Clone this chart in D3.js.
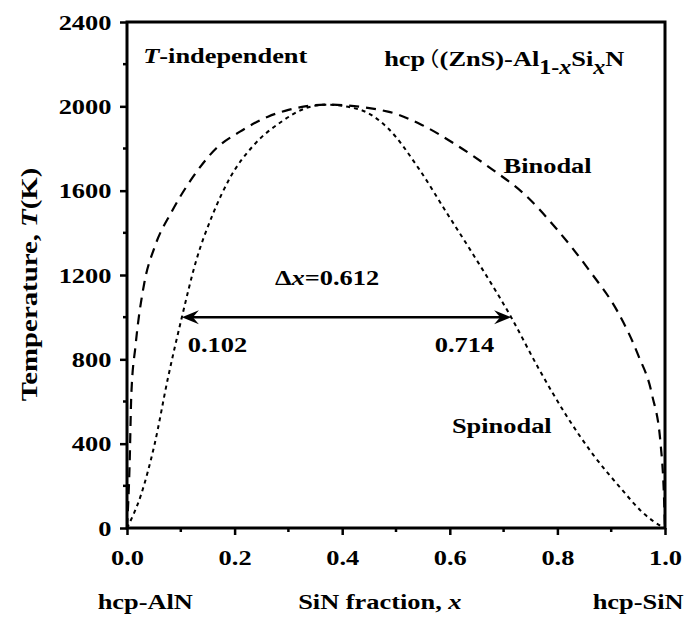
<!DOCTYPE html>
<html>
<head>
<meta charset="utf-8">
<script src="https://cdn.jsdelivr.net/npm/d3@7"></script>
<style>
  body { margin: 0; background: #fff; }
  svg text { font-family: "Liberation Serif", "Times New Roman", serif; font-weight: bold; fill: #000; }
</style>
</head>
<body>
<div id="chart"></div>
<script>
// binodal curve (dashed)
const binodalX = [0, 0.005, 0.008, 0.016, 0.032, 0.051, 0.083, 0.121, 0.166, 0.210, 0.262, 0.300, 0.370, 0.485, 0.548, 0.612, 0.676, 0.740, 0.797, 0.861, 0.912, 0.950, 0.976, 0.992, 0.998, 1.0];
const binodalT = [0, 315, 631, 868, 1160, 1330, 1500, 1659, 1801, 1880, 1951, 1983, 2008, 1975, 1912, 1817, 1706, 1580, 1423, 1216, 1026, 821, 631, 394, 157, 0];

// spinodal curve (dotted)
const spinodalX = [0, 0.026, 0.051, 0.076, 0.102, 0.128, 0.159, 0.191, 0.236, 0.287, 0.332, 0.370, 0.434, 0.485, 0.542, 0.593, 0.644, 0.714, 0.765, 0.816, 0.867, 0.918, 0.957, 0.995, 1.0];
const spinodalT = [0, 157, 394, 710, 1000, 1263, 1485, 1659, 1817, 1927, 1991, 2008, 1983, 1896, 1706, 1500, 1295, 1000, 757, 536, 346, 188, 77, 6, 0];

// miscibility gap arrow at T = 1000 K
const gapX = [0.102, 0.714];
const gapT = 1000;

const xTicks = [0, 0.2, 0.4, 0.6, 0.8, 1.0];
const xMinor = [0.1, 0.3, 0.5, 0.7, 0.9];
const yTicks = [0, 400, 800, 1200, 1600, 2000, 2400];
const yMinor = [200, 600, 1000, 1400, 1800, 2200];

const width = 688;
const height = 622;
const margin = { top: 22, right: 23, bottom: 94, left: 127 };
const sx = 1.2; // the original lettering is horizontally wide

const svg = d3.select("#chart")
    .append("svg")
    .attr("width", width)
    .attr("height", height);

const x = d3.scaleLinear().domain([0, 1]).range([margin.left, width - margin.right]);
const y = d3.scaleLinear().domain([0, 2400]).range([height - margin.bottom, margin.top]);

// wide text helper: parts = [[text, {italic, sub, size, dx}], ...]
function wideText(px, py, parts, anchor, rotate, size) {
    const t = svg.append("text")
        .attr("transform", `translate(${px},${py})` + (rotate ? ` rotate(${rotate})` : "") + ` scale(${sx},1)`)
        .attr("text-anchor", anchor || "start")
        .style("font-size", (size || 22) + "px");
    let shifted = 0;
    parts.forEach(([str, o]) => {
        o = o || {};
        const ts = t.append("tspan").text(str);
        if (o.italic) ts.style("font-style", "italic");
        if (o.family) ts.style("font-family", o.family).style("font-weight", "normal");
        if (o.size) ts.style("font-size", o.size + "px");
        if (o.dx) ts.attr("dx", o.dx);
        const want = o.sub ? 8 : 0;
        if (want !== shifted) { ts.attr("dy", want - shifted); shifted = want; }
    });
    return t;
}

// axes
const xAxis = d3.axisBottom(x).tickValues(xTicks).tickFormat(d3.format(".1f")).tickSize(7).tickPadding(6);
const yAxis = d3.axisLeft(y).tickValues(yTicks).tickFormat(d3.format("d")).tickSize(7).tickPadding(6);

const gx = svg.append("g").attr("transform", `translate(0,${y(0)})`).call(xAxis);
const gy = svg.append("g").attr("transform", `translate(${x(0)},0)`).call(yAxis);

[gx, gy].forEach(g => {
    g.select(".domain").remove();
    g.selectAll(".tick line").attr("stroke", "#000").attr("stroke-width", 2.5);
    g.selectAll(".tick text")
        .style("font-size", "22px")
        .attr("fill", "#000")
        .attr("transform", `scale(${sx},1)`);
});
gx.selectAll(".tick text").attr("dy", "1.1em");

// minor ticks
svg.append("g").selectAll("line").data(xMinor).enter().append("line")
    .attr("x1", d => x(d)).attr("x2", d => x(d))
    .attr("y1", y(0)).attr("y2", y(0) + 4)
    .attr("stroke", "#000").attr("stroke-width", 2.5);
svg.append("g").selectAll("line").data(yMinor).enter().append("line")
    .attr("y1", d => y(d)).attr("y2", d => y(d))
    .attr("x1", x(0)).attr("x2", x(0) - 4)
    .attr("stroke", "#000").attr("stroke-width", 2.5);

// frame
svg.append("rect")
    .attr("x", x(0)).attr("y", y(2400))
    .attr("width", x(1) - x(0)).attr("height", y(0) - y(2400))
    .attr("fill", "none").attr("stroke", "#000").attr("stroke-width", 3);

// curves
const line = d3.line().x(d => x(d[0])).y(d => y(d[1])).curve(d3.curveMonotoneX);

svg.append("path")
    .datum(binodalX.map((v, i) => [v, binodalT[i]]))
    .attr("d", line)
    .attr("fill", "none").attr("stroke", "#000")
    .attr("stroke-width", 2.2).attr("stroke-dasharray", "10,7");

svg.append("path")
    .datum(spinodalX.map((v, i) => [v, spinodalT[i]]))
    .attr("d", line)
    .attr("fill", "none").attr("stroke", "#000")
    .attr("stroke-width", 2).attr("stroke-dasharray", "4,4");

// double arrow
const ay = y(gapT);
svg.append("line")
    .attr("x1", x(gapX[0]) + 4).attr("x2", x(gapX[1]) - 4)
    .attr("y1", ay).attr("y2", ay)
    .attr("stroke", "#000").attr("stroke-width", 2.5);
[[x(gapX[0]), 1], [x(gapX[1]), -1]].forEach(([tx, dir]) => {
    svg.append("path")
        .attr("d", `M${tx},${ay} L${tx + dir * 17},${ay - 7} L${tx + dir * 11},${ay} L${tx + dir * 17},${ay + 7} Z`)
        .attr("fill", "#000");
});

// annotations
wideText(x(0.03), y(2206), [["T", { italic: true }], ["-independent"]]);
wideText(x(0.478), y(2190), [["hcp"], ["\uFF08", { family: "Noto Sans CJK SC", size: 20, dx: -8 }], ["(ZnS)-Al"], ["1-", { sub: true, size: 20 }], ["x", { sub: true, italic: true, size: 20 }], ["Si"], ["x", { sub: true, italic: true, size: 20 }], ["N"]]);
wideText(x(0.70), y(1684), [["Binodal"]]);
wideText(x(0.604), y(451), [["Spinodal"]]);
wideText(x(0.275), y(1153), [["\u0394"], ["x", { italic: true }], ["=0.612"]]);
wideText(x(0.113), y(835), [[gapX[0].toFixed(3)]]);
wideText(x(0.572), y(835), [[gapX[1].toFixed(3)]]);

// axis titles
wideText(x(0.034), 609, [["hcp-AlN"]], "middle");
wideText(x(0.47), 609, [["SiN fraction, "], ["x", { italic: true }]], "middle");
wideText(x(0.95), 609, [["hcp-SiN"]], "middle");
wideText(37, y(1155), [["Temperature, "], ["T", { italic: true }], ["(K)"]], "middle", -90, 24);
</script>
</body>
</html>
